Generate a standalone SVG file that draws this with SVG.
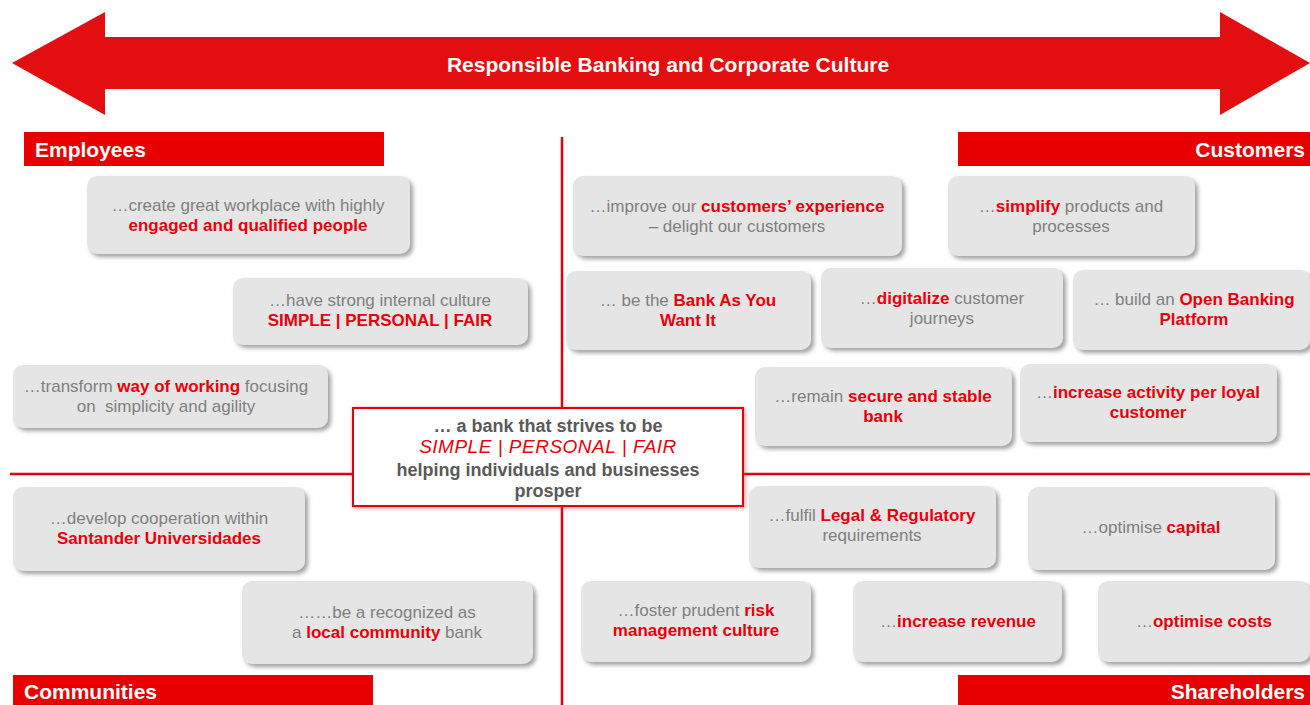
<svg xmlns="http://www.w3.org/2000/svg" width="1310" height="705" viewBox="0 0 1310 705">
<defs>
<filter id="sh" x="-10%" y="-10%" width="125%" height="135%">
<feDropShadow dx="3" dy="3" stdDeviation="2" flood-color="#8a8a8a" flood-opacity="0.8"/>
</filter>
<filter id="glow" x="-10%" y="-20%" width="120%" height="140%">
<feDropShadow dx="1" dy="1" stdDeviation="2" flood-color="#ff3030" flood-opacity="0.6"/>
</filter>
<style>
.box{fill:#e5e5e5;filter:url(#sh)}
.t{font-family:"Liberation Sans Narrow","Liberation Sans",Arial,sans-serif;font-size:17px;fill:#7f7f7f;text-anchor:middle}
.r{fill:#e8000b;font-weight:bold}
.hdr{fill:#e80000}
.ht{font-family:"Liberation Sans",Arial,sans-serif;font-weight:bold;font-size:21px;fill:#ffffff}
.ln{stroke:#e30010;fill:none}
.c{font-family:"Liberation Sans",Arial,sans-serif;font-weight:bold;font-size:18px;fill:#595959;text-anchor:middle}
.ci{font-family:"Liberation Sans",Arial,sans-serif;font-style:italic;font-size:19px;fill:#e8000b;text-anchor:middle;letter-spacing:0.5px}
</style>
</defs>
<rect width="1310" height="705" fill="#ffffff"/>

<g id="banner">
<path d="M12,63 L105,12 L105,37 L1220,37 L1220,12 L1310,63 L1220,115 L1220,89 L105,89 L105,115 Z" fill="#e30e10"/>
<text x="668" y="72" class="ht" text-anchor="middle">Responsible Banking and Corporate Culture</text>
</g>

<g id="connectors">
<line class="ln" x1="562" y1="137" x2="562" y2="705" stroke-width="2.5"/>
<line class="ln" x1="10" y1="474" x2="1310" y2="474" stroke-width="2.5"/>
</g>

<g id="hdr-employees"><rect class="hdr" x="24" y="132" width="360" height="34"/><text class="ht" x="35" y="157">Employees</text></g>
<g id="hdr-customers"><rect class="hdr" x="958" y="132" width="352" height="34"/><text class="ht" x="1305" y="157" text-anchor="end">Customers</text></g>
<g id="hdr-communities"><rect class="hdr" x="13" y="675" width="360" height="30"/><text class="ht" x="24" y="699">Communities</text></g>
<g id="hdr-shareholders"><rect class="hdr" x="958" y="675" width="352" height="30"/><text class="ht" x="1305" y="699" text-anchor="end">Shareholders</text></g>

<g id="center">
<rect x="353" y="408" width="390" height="98" fill="#ffffff" stroke="#e30010" stroke-width="2" filter="url(#glow)"/>
<text class="c" x="548" y="432">… a bank that strives to be</text>
<text class="ci" x="548" y="453">SIMPLE | PERSONAL | FAIR</text>
<text class="c" x="548" y="476">helping individuals and businesses</text>
<text class="c" x="548" y="497">prosper</text>
</g>

<g id="e1"><rect class="box" x="87" y="176" width="323" height="78" rx="10"/>
<text class="t" x="248" y="211">…create great workplace with highly</text>
<text class="t" x="248" y="231"><tspan class="r">engaged and qualified people</tspan></text></g>

<g id="e2"><rect class="box" x="233" y="278" width="295" height="67" rx="10"/>
<text class="t" x="380" y="306">…have strong internal culture</text>
<text class="t" x="380" y="326"><tspan class="r">SIMPLE | PERSONAL | FAIR</tspan></text></g>

<g id="e3"><rect class="box" x="13" y="365" width="315" height="63" rx="10"/>
<text class="t" x="166" y="392">…transform <tspan class="r">way of working</tspan> focusing</text>
<text class="t" x="166" y="412" xml:space="preserve">on  simplicity and agility</text></g>

<g id="m1"><rect class="box" x="13" y="487" width="292" height="84" rx="10"/>
<text class="t" x="159" y="524">…develop cooperation within</text>
<text class="t" x="159" y="544"><tspan class="r">Santander Universidades</tspan></text></g>

<g id="m2"><rect class="box" x="242" y="581" width="291" height="83" rx="10"/>
<text class="t" x="387" y="618">……be a recognized as</text>
<text class="t" x="387" y="638">a <tspan class="r">local community</tspan> bank</text></g>

<g id="c1"><rect class="box" x="573" y="176" width="329" height="80" rx="10"/>
<text class="t" x="737" y="212">…improve our <tspan class="r">customers’ experience</tspan></text>
<text class="t" x="737" y="232">– delight our customers</text></g>

<g id="c2"><rect class="box" x="948" y="176" width="247" height="80" rx="10"/>
<text class="t" x="1071" y="212">…<tspan class="r">simplify</tspan> products and</text>
<text class="t" x="1071" y="232">processes</text></g>

<g id="c3"><rect class="box" x="566" y="271" width="245" height="79" rx="10"/>
<text class="t" x="688" y="306">… be the <tspan class="r">Bank As You</tspan></text>
<text class="t" x="688" y="326"><tspan class="r">Want It</tspan></text></g>

<g id="c4"><rect class="box" x="821" y="268" width="242" height="80" rx="10"/>
<text class="t" x="942" y="304">…<tspan class="r">digitalize</tspan> customer</text>
<text class="t" x="942" y="324">journeys</text></g>

<g id="c5"><rect class="box" x="1073" y="270" width="237" height="80" rx="10"/>
<text class="t" x="1194" y="305">… build an <tspan class="r">Open Banking</tspan></text>
<text class="t" x="1194" y="325"><tspan class="r">Platform</tspan></text></g>

<g id="c6"><rect class="box" x="755" y="367" width="257" height="79" rx="10"/>
<text class="t" x="883" y="402">…remain <tspan class="r">secure and stable</tspan></text>
<text class="t" x="883" y="422"><tspan class="r">bank</tspan></text></g>

<g id="c7"><rect class="box" x="1020" y="364" width="257" height="78" rx="10"/>
<text class="t" x="1148" y="398">…<tspan class="r">increase activity per loyal</tspan></text>
<text class="t" x="1148" y="418"><tspan class="r">customer</tspan></text></g>

<g id="s1"><rect class="box" x="749" y="486" width="247" height="82" rx="10"/>
<text class="t" x="872" y="521">…fulfil <tspan class="r">Legal &amp; Regulatory</tspan></text>
<text class="t" x="872" y="541">requirements</text></g>

<g id="s2"><rect class="box" x="1028" y="487" width="247" height="83" rx="10"/>
<text class="t" x="1151" y="533">…optimise <tspan class="r">capital</tspan></text></g>

<g id="s3"><rect class="box" x="581" y="581" width="230" height="81" rx="10"/>
<text class="t" x="696" y="616">…foster prudent <tspan class="r">risk</tspan></text>
<text class="t" x="696" y="636"><tspan class="r">management culture</tspan></text></g>

<g id="s4"><rect class="box" x="853" y="581" width="209" height="81" rx="10"/>
<text class="t" x="958" y="627">…<tspan class="r">increase revenue</tspan></text></g>

<g id="s5"><rect class="box" x="1098" y="581" width="212" height="81" rx="10"/>
<text class="t" x="1204" y="627">…<tspan class="r">optimise costs</tspan></text></g>
</svg>
